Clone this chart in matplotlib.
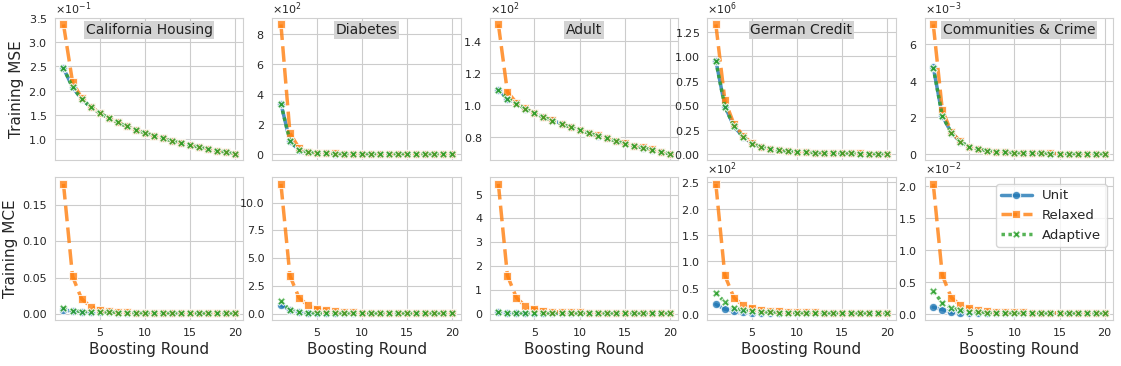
import numpy as np
import matplotlib
matplotlib.use("Agg")
import matplotlib.pyplot as plt
import seaborn as sns

rounds = list(range(1, 21))
datasets = ["California Housing", "Diabetes", "Adult", "German Credit", "Communities & Crime"]
methods = ["Unit", "Relaxed", "Adaptive"]

# training MSE
cal_mse_unit = [0.246, 0.207, 0.183, 0.166, 0.154, 0.143, 0.134, 0.126, 0.119, 0.1125,
                0.107, 0.1015, 0.096, 0.0915, 0.087, 0.083, 0.079, 0.076, 0.0725, 0.069]
cal_mse_relaxed = [0.337, 0.218, 0.185, 0.167, 0.154, 0.143, 0.134, 0.126, 0.119, 0.1125,
                   0.107, 0.1015, 0.096, 0.0915, 0.087, 0.083, 0.079, 0.076, 0.0725, 0.069]
cal_mse_adaptive = [0.247, 0.207, 0.183, 0.166, 0.154, 0.143, 0.134, 0.126, 0.119, 0.1125,
                    0.107, 0.1015, 0.096, 0.0915, 0.087, 0.083, 0.079, 0.076, 0.0725, 0.069]

dia_mse_unit = [336, 84, 27, 11, 5, 3, 2, 1.5, 1.2, 1.0, 0.9, 0.8, 0.7, 0.6, 0.55, 0.5, 0.45, 0.4, 0.38, 0.35]
dia_mse_relaxed = [866, 138, 40, 15, 7, 4, 3, 2, 1.6, 1.3, 1.1, 1.0, 0.9, 0.8, 0.7, 0.65, 0.6, 0.55, 0.5, 0.45]
dia_mse_adaptive = [334, 85, 27, 11, 5, 3, 2, 1.5, 1.2, 1.0, 0.9, 0.8, 0.7, 0.6, 0.55, 0.5, 0.45, 0.4, 0.38, 0.35]

adu_mse_unit = [109.4, 103.9, 100.9, 97.5, 94.9, 92.3, 90.2, 88.1, 85.9, 84.2,
                82.3, 80.6, 78.9, 77.4, 75.7, 74.0, 73.1, 71.8, 70.5, 69.2]
adu_mse_relaxed = [150.6, 108.1, 101.3, 97.7, 95.0, 92.4, 90.3, 88.2, 86.0, 84.3,
                   82.4, 80.7, 79.0, 77.5, 75.8, 74.1, 73.2, 71.9, 70.6, 69.3]
adu_mse_adaptive = [109.3, 103.8, 100.8, 97.4, 94.8, 92.2, 90.1, 88.0, 85.8, 84.1,
                    82.2, 80.5, 78.8, 77.3, 75.6, 73.9, 73.0, 71.7, 70.4, 69.1]

ger_mse_unit = [956e3, 490e3, 285e3, 180e3, 110e3, 75e3, 50e3, 38e3, 30e3, 24e3,
                19e3, 15e3, 12e3, 10e3, 8e3, 7e3, 6e3, 5e3, 4e3, 3e3]
ger_mse_relaxed = [1325e3, 550e3, 310e3, 190e3, 115e3, 78e3, 53e3, 40e3, 31e3, 25e3,
                   20e3, 16e3, 13e3, 11e3, 9e3, 8e3, 7e3, 6e3, 5e3, 4e3]
ger_mse_adaptive = [950e3, 485e3, 283e3, 178e3, 109e3, 74e3, 50e3, 38e3, 30e3, 24e3,
                    19e3, 15e3, 12e3, 10e3, 8e3, 7e3, 6e3, 5e3, 4e3, 3e3]

com_mse_unit = [4.72e-3, 2.08e-3, 1.16e-3, 0.67e-3, 0.40e-3, 0.27e-3, 0.18e-3, 0.13e-3, 0.09e-3, 0.07e-3,
                0.055e-3, 0.045e-3, 0.037e-3, 0.03e-3, 0.025e-3, 0.021e-3, 0.018e-3, 0.015e-3, 0.013e-3, 0.011e-3]
com_mse_relaxed = [7.05e-3, 2.40e-3, 1.20e-3, 0.69e-3, 0.41e-3, 0.28e-3, 0.19e-3, 0.14e-3, 0.10e-3, 0.08e-3,
                   0.06e-3, 0.05e-3, 0.04e-3, 0.033e-3, 0.028e-3, 0.024e-3, 0.02e-3, 0.017e-3, 0.015e-3, 0.013e-3]
com_mse_adaptive = [4.70e-3, 2.07e-3, 1.15e-3, 0.66e-3, 0.40e-3, 0.27e-3, 0.18e-3, 0.13e-3, 0.09e-3, 0.07e-3,
                    0.055e-3, 0.045e-3, 0.037e-3, 0.03e-3, 0.025e-3, 0.021e-3, 0.018e-3, 0.015e-3, 0.013e-3, 0.011e-3]

# training MCE
cal_mce_unit = [0.0056, 0.004, 0.003, 0.0028, 0.0025, 0.0022, 0.002, 0.0018, 0.0016, 0.0015,
                0.0014, 0.0013, 0.0012, 0.0011, 0.0011, 0.001, 0.001, 0.0009, 0.0009, 0.0009]
cal_mce_relaxed = [0.179, 0.052, 0.021, 0.0103, 0.006, 0.004, 0.003, 0.0025, 0.002, 0.0018,
                   0.0016, 0.0015, 0.0014, 0.0013, 0.0012, 0.0011, 0.0011, 0.001, 0.001, 0.001]
cal_mce_adaptive = [0.009, 0.0045, 0.0035, 0.003, 0.0027, 0.0024, 0.0021, 0.0019, 0.0017, 0.0016,
                    0.0015, 0.0014, 0.0013, 0.0012, 0.0011, 0.0011, 0.001, 0.001, 0.0009, 0.0009]

dia_mce_unit = [0.76, 0.33, 0.1, 0.05, 0.03, 0.02, 0.02, 0.015, 0.015, 0.01,
                0.01, 0.01, 0.01, 0.01, 0.01, 0.01, 0.01, 0.01, 0.01, 0.01]
dia_mce_relaxed = [11.7, 3.4, 1.43, 0.73, 0.43, 0.3, 0.2, 0.15, 0.1, 0.08,
                   0.06, 0.05, 0.04, 0.035, 0.03, 0.025, 0.02, 0.02, 0.02, 0.02]
dia_mce_adaptive = [1.13, 0.3, 0.1, 0.05, 0.03, 0.02, 0.02, 0.015, 0.015, 0.01,
                    0.01, 0.01, 0.01, 0.01, 0.01, 0.01, 0.01, 0.01, 0.01, 0.01]

adu_mce_unit = [0.05, 0.03, 0.02, 0.02, 0.015, 0.015, 0.01, 0.01, 0.01, 0.01,
                0.01, 0.01, 0.01, 0.01, 0.01, 0.01, 0.01, 0.01, 0.01, 0.01]
adu_mce_relaxed = [5.45, 1.6, 0.67, 0.31, 0.19, 0.13, 0.09, 0.07, 0.06, 0.05,
                   0.045, 0.04, 0.035, 0.03, 0.03, 0.025, 0.025, 0.02, 0.02, 0.02]
adu_mce_adaptive = [0.07, 0.03, 0.02, 0.02, 0.015, 0.015, 0.01, 0.01, 0.01, 0.01,
                    0.01, 0.01, 0.01, 0.01, 0.01, 0.01, 0.01, 0.01, 0.01, 0.01]

ger_mce_unit = [18, 9, 4.5, 3, 2.5, 2, 1.8, 1.6, 1.5, 1.4, 1.3, 1.2, 1.1, 1.0, 1.0, 0.9, 0.9, 0.8, 0.8, 0.8]
ger_mce_relaxed = [247, 73, 31, 16, 11, 8, 6, 5, 4, 3.5, 3, 2.7, 2.4, 2.2, 2, 1.8, 1.7, 1.6, 1.5, 1.4]
ger_mce_adaptive = [40, 22, 11, 6.5, 4.5, 3.5, 2.8, 2.3, 2, 1.8, 1.6, 1.5, 1.4, 1.3, 1.2, 1.1, 1.0, 1.0, 0.9, 0.9]

com_mce_unit = [1.0e-3, 0.63e-3, 0.2e-3, 0.15e-3, 0.12e-3, 0.1e-3, 0.09e-3, 0.08e-3, 0.07e-3, 0.06e-3,
                0.06e-3, 0.05e-3, 0.05e-3, 0.05e-3, 0.04e-3, 0.04e-3, 0.04e-3, 0.04e-3, 0.03e-3, 0.03e-3]
com_mce_relaxed = [20.3e-3, 6.0e-3, 2.5e-3, 1.3e-3, 0.8e-3, 0.5e-3, 0.4e-3, 0.3e-3, 0.25e-3, 0.2e-3,
                   0.18e-3, 0.16e-3, 0.14e-3, 0.12e-3, 0.11e-3, 0.1e-3, 0.09e-3, 0.08e-3, 0.08e-3, 0.07e-3]
com_mce_adaptive = [3.5e-3, 1.7e-3, 0.9e-3, 0.5e-3, 0.3e-3, 0.2e-3, 0.15e-3, 0.12e-3, 0.1e-3, 0.09e-3,
                    0.08e-3, 0.07e-3, 0.06e-3, 0.05e-3, 0.05e-3, 0.04e-3, 0.04e-3, 0.04e-3, 0.03e-3, 0.03e-3]

mse = [
    [cal_mse_unit, cal_mse_relaxed, cal_mse_adaptive],
    [dia_mse_unit, dia_mse_relaxed, dia_mse_adaptive],
    [adu_mse_unit, adu_mse_relaxed, adu_mse_adaptive],
    [ger_mse_unit, ger_mse_relaxed, ger_mse_adaptive],
    [com_mse_unit, com_mse_relaxed, com_mse_adaptive],
]
mce = [
    [cal_mce_unit, cal_mce_relaxed, cal_mce_adaptive],
    [dia_mce_unit, dia_mce_relaxed, dia_mce_adaptive],
    [adu_mce_unit, adu_mce_relaxed, adu_mce_adaptive],
    [ger_mce_unit, ger_mce_relaxed, ger_mce_adaptive],
    [com_mce_unit, com_mce_relaxed, com_mce_adaptive],
]
# which MCE panels show a x10^n offset
mce_sci = [False, False, False, True, True]

sns.set_style("whitegrid")
plt.rcParams["font.family"] = ["DejaVu Sans"]

colors = ["#1f77b4", "#ff7f0e", "#2ca02c"]
styles = [dict(ls="-", marker="o", ms=6),
          dict(ls=(0, (4.5, 1.8)), marker="s", ms=6),
          dict(ls=(0, (1, 1)), marker="X", ms=6)]

fig, axes = plt.subplots(2, 5, figsize=(11.21, 3.66), dpi=100, sharex=True)
fig.subplots_adjust(left=0.049, right=0.993, top=0.951, bottom=0.126, wspace=0.154, hspace=0.12)

for row, data in enumerate([mse, mce]):
    for col in range(5):
        ax = axes[row, col]
        for k, name in enumerate(methods):
            ax.plot(rounds, data[col][k], color=colors[k], lw=2.5, alpha=0.8,
                    mec="white", mew=0.8, label=name, **styles[k])
        if row == 0 or mce_sci[col]:
            ax.ticklabel_format(axis="y", style="sci", scilimits=(0, 0), useMathText=True)
        ax.yaxis.get_offset_text().set_fontsize(8)
        ax.tick_params(axis="both", labelsize=8, pad=2, colors="#262626")
        ax.set_xticks([5, 10, 15, 20])
        for s in ax.spines.values():
            s.set_color("#d0d0d0")
        if row == 0:
            ax.text(0.5, 0.965, datasets[col], transform=ax.transAxes, ha="center", va="top",
                    fontsize=10, color="#222222",
                    bbox=dict(boxstyle="square,pad=0.12", fc="#d3d3d3", ec="none"))
        else:
            ax.set_xlabel("Boosting Round", fontsize=11, labelpad=3)

axes[0, 0].set_ylabel("Training MSE", fontsize=11, labelpad=3)
axes[1, 0].set_ylabel("Training MCE", fontsize=11, labelpad=3)
axes[1, 4].legend(loc="upper right", fontsize=9.5, handlelength=2.3)

fig.savefig("out.png", dpi=100)
